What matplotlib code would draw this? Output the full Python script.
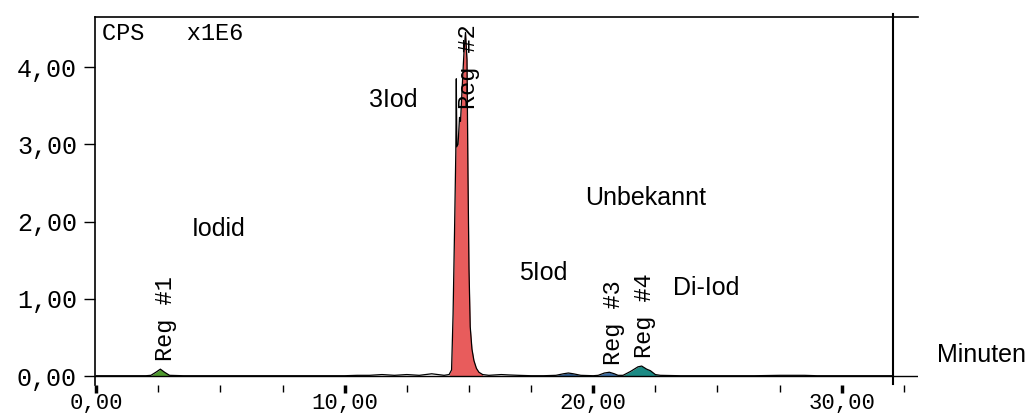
import numpy as np
import matplotlib
matplotlib.use('Agg')
import matplotlib.pyplot as plt

# Chromatogramm (Zeit in Minuten, CPS x1E6)
zeit = np.array([0.0, 1.0, 2.0, 2.2, 2.4, 2.58, 2.75, 2.95, 3.5, 5.0, 7.5, 10.0,
                 10.5, 11.0, 11.5, 12.0, 12.5, 13.0, 13.5, 14.0, 14.2,
                 14.30, 14.36, 14.42, 14.47, 14.49, 14.51, 14.56, 14.62, 14.66,
                 14.72, 14.80, 14.86, 14.92, 14.96, 15.00, 15.05, 15.12, 15.20,
                 15.30, 15.40, 15.55, 15.8, 16.3, 16.6, 17.0, 17.5, 18.0,
                 18.5, 18.8, 19.0, 19.2, 19.5, 20.0, 20.2, 20.45, 20.65, 20.85,
                 21.0, 21.2, 21.5, 21.8, 21.95, 22.15, 22.3, 22.5, 22.7,
                 23.5, 25.0, 26.5, 27.5, 28.5, 29.0, 30.0, 31.0, 32.0])
cps = np.array([0.005, 0.005, 0.005, 0.01, 0.05, 0.09, 0.05, 0.01, 0.005, 0.005, 0.005, 0.005,
                0.01, 0.01, 0.02, 0.01, 0.02, 0.01, 0.03, 0.01, 0.02,
                0.08, 0.8, 1.9, 2.9, 3.85, 2.97, 3.0, 3.35, 3.3,
                3.7, 4.2, 4.45, 4.1, 2.6, 1.4, 0.64, 0.35, 0.2,
                0.1, 0.05, 0.02, 0.01, 0.02, 0.015, 0.01, 0.005, 0.005,
                0.01, 0.03, 0.04, 0.03, 0.01, 0.005, 0.01, 0.04, 0.05, 0.03,
                0.01, 0.01, 0.06, 0.12, 0.13, 0.09, 0.07, 0.02, 0.01,
                0.005, 0.005, 0.005, 0.01, 0.01, 0.005, 0.005, 0.005, 0.005])

# Integrationsbereiche
reg_start = [2.2, 14.2, 18.5, 20.2, 21.2]
reg_ende = [2.95, 15.55, 19.5, 21.0, 22.7]
reg_farbe = ['#4f9a2e', '#e85c5c', '#2d5a8c', '#3b6ea5', '#1b8a84']

# Beschriftungen
reg_namen = ['Reg #1', 'Reg #2', 'Reg #3', 'Reg #4']
reg_x = [2.78, 15.0, 20.8, 22.08]
reg_y = [0.19, 3.46, 0.15, 0.23]

namen = ['Iodid', '3Iod', 'Unbekannt', '5Iod', 'Di-Iod']
namen_x = [3.86, 10.99, 19.68, 17.02, 23.2]
namen_y = [1.90, 3.58, 2.31, 1.33, 1.14]

x_ticks = [0, 10, 20, 30]
x_labels = ['0,00', '10,00', '20,00', '30,00']
y_ticks = [0, 1, 2, 3, 4]
y_labels = ['0,00', '1,00', '2,00', '3,00', '4,00']

fig = plt.figure(figsize=(10.33, 4.17), dpi=100)
ax = fig.add_axes([95 / 1033, 1 - 384.6 / 417, 823 / 1033, 367.6 / 417])

# Flaechen der Peaks
for a, b, c in zip(reg_start, reg_ende, reg_farbe):
    m = (zeit >= a) & (zeit <= b)
    ax.fill_between(zeit[m], 0, cps[m], color=c, lw=0)

ax.axhline(0, color='black', lw=1.0)
ax.plot(zeit, cps, color='black', lw=0.9)

# senkrechte Linie rechts
ax.plot([32.07, 32.07], [-0.1, 4.69], color='black', lw=1.5, clip_on=False)

ax.set_xlim(-0.05, 33.07)
ax.set_ylim(-0.11, 4.65)

for s in ['right', 'bottom']:
    ax.spines[s].set_visible(False)
ax.spines['top'].set_linewidth(1.2)
ax.spines['left'].set_linewidth(1.2)

mono = 'Liberation Mono'
ax.set_xticks(x_ticks)
ax.set_xticklabels(x_labels, family=mono, fontsize=16)
ax.set_xticks(np.arange(0, 33, 2.5), minor=True)
ax.set_yticks(y_ticks)
ax.set_yticklabels(y_labels, family=mono, fontsize=18)
ax.tick_params(axis='x', which='major', direction='out', length=6, width=2.5, pad=0)
ax.tick_params(axis='x', which='minor', direction='out', length=5, width=1)
ax.tick_params(axis='y', direction='out', length=8, width=1, pad=5)

ax.text(0.008, 0.955, 'CPS   x1E6', transform=ax.transAxes, family=mono,
        fontsize=17, va='center', ha='left')

for t, x, y in zip(reg_namen, reg_x, reg_y):
    ax.text(x, y, t, rotation=90, family=mono, fontsize=17, ha='center', va='bottom')

for t, x, y in zip(namen, namen_x, namen_y):
    ax.text(x, y, t, family='Liberation Sans', fontsize=18, ha='left', va='center')

fig.text(937 / 1033, 1 - 355 / 417, 'Minuten', family='Liberation Sans',
         fontsize=18, ha='left', va='center')

plt.savefig('out.png', dpi=100)
